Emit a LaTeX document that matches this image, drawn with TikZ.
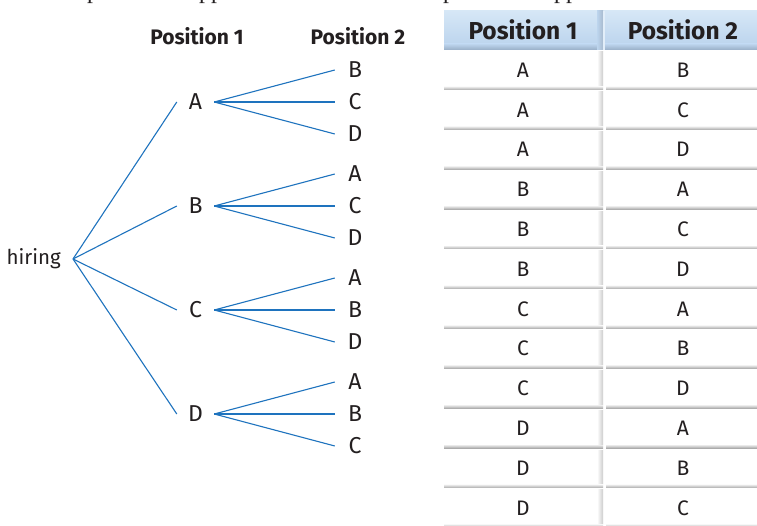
\documentclass[tikz,border=0pt]{standalone}
\usepackage{fontspec}
\setmainfont{Fira Sans}
\newfontfamily\serifpart{Liberation Serif}
\definecolor{ink}{HTML}{231F20}
\definecolor{treeblue}{HTML}{1E73BE}
\definecolor{hdrtop}{HTML}{D6E7F6}
\definecolor{hdrbot}{HTML}{BDD5EE}
\definecolor{hdrdark}{HTML}{98AEC6}
\definecolor{cellshade}{HTML}{ABABAB}
\begin{document}
\begin{tikzpicture}[x=1pt,y=-1pt,
  branch/.style={draw=treeblue, line width=1.1pt},
  lvlone/.style={font=\fontsize{23}{23}\selectfont, text=ink, minimum width=37pt, inner sep=0pt},
  lvltwo/.style={font=\fontsize{23}{23}\selectfont, text=ink, minimum width=40pt, inner sep=0pt},
  rootlbl/.style={font=\fontsize{20.5}{20.5}\selectfont, text=ink, inner xsep=12pt, inner ysep=0pt, anchor=east},
  treehead/.style={font=\bfseries\fontsize{21}{21}\selectfont, text=ink},
  tabhead/.style={font=\bfseries\fontsize{24.5}{24.5}\selectfont, text=ink},
  celltext/.style={font=\fontsize{21}{21}\selectfont, text=ink},
  partial/.style={font=\serifpart\fontsize{24}{24}\selectfont, text=ink, anchor=base west, inner sep=0pt}]
\useasboundingbox (0,0) rectangle (757,526);
\clip (0,0) rectangle (757,526);
\fill[white] (0,0) rectangle (757,526);

% partial line of text cut off at the top
\node[partial] (pa) at (87,-1.5) {p};
\node[partial] (pb) at (199,-1.5) {pp};
\node[partial] (pc) at (443,-1.5) {p};
\node[partial] (pd) at (554,-1.5) {pp};

% ---------- tree ----------
\node[treehead] (th1) at (197,36) {Position 1};
\node[treehead] (th2) at (358,36) {Position 2};

\node[rootlbl] (h) at (73,259) {hiring};

\node[lvlone] (nA) at (195.5,102) {A};
\node[lvlone] (nB) at (195.5,206) {B};
\node[lvlone] (nC) at (195.5,310) {C};
\node[lvlone] (nD) at (195.5,414) {D};

\node[lvltwo] (nAB) at (355,70) {B};
\node[lvltwo] (nAC) at (355,102) {C};
\node[lvltwo] (nAD) at (355,134) {D};
\node[lvltwo] (nBA) at (355,174) {A};
\node[lvltwo] (nBC) at (355,206) {C};
\node[lvltwo] (nBD) at (355,238) {D};
\node[lvltwo] (nCA) at (355,278) {A};
\node[lvltwo] (nCB) at (355,310) {B};
\node[lvltwo] (nCD) at (355,342) {D};
\node[lvltwo] (nDA) at (355,382) {A};
\node[lvltwo] (nDB) at (355,414) {B};
\node[lvltwo] (nDC) at (355,446) {C};

\foreach \n in {nA,nB,nC,nD} \draw[branch] (h.east) -- (\n.west);
\foreach \n in {nAB,nAC,nAD} \draw[branch] (nA.east) -- (\n.west);
\foreach \n in {nBA,nBC,nBD} \draw[branch] (nB.east) -- (\n.west);
\foreach \n in {nCA,nCB,nCD} \draw[branch] (nC.east) -- (\n.west);
\foreach \n in {nDA,nDB,nDC} \draw[branch] (nD.east) -- (\n.west);

% ---------- table ----------
\fill[top color=hdrtop, bottom color=hdrbot] (444,11) rectangle (757,44);
\fill[top color=hdrbot, bottom color=hdrdark] (444,44) rectangle (757,50);
\fill[left color=hdrbot, right color=hdrdark!85] (597,11) rectangle (603,50);
\fill[hdrtop!70!white] (603,11) rectangle (605,50);
\node[tabhead] (hc1) at (523,30) {Position 1};
\node[tabhead] (hc2) at (683,30) {Position 2};

\foreach \i/\a/\b in {0/A/B,1/A/C,2/A/D,3/B/A,4/B/C,5/B/D,6/C/A,7/C/B,8/C/D,9/D/A,10/D/B,11/D/C}{
  \pgfmathsetmacro{\rtop}{50+39.8*\i}
  \pgfmathsetmacro{\rbot}{89.8+39.8*\i}
  \pgfmathsetmacro{\rmid}{70+39.8*\i}
  \fill[top color=white, bottom color=cellshade] (444,\rbot-4) rectangle (603,\rbot);
  \fill[top color=white, bottom color=cellshade] (606,\rbot-4) rectangle (757,\rbot);
  \fill[left color=white, right color=cellshade!60] (597,\rtop+2) rectangle (603,\rbot-4);
  \node[celltext] (r\i a) at (523,\rmid) {\a};
  \node[celltext] (r\i b) at (683,\rmid) {\b};
}
\end{tikzpicture}
\end{document}
